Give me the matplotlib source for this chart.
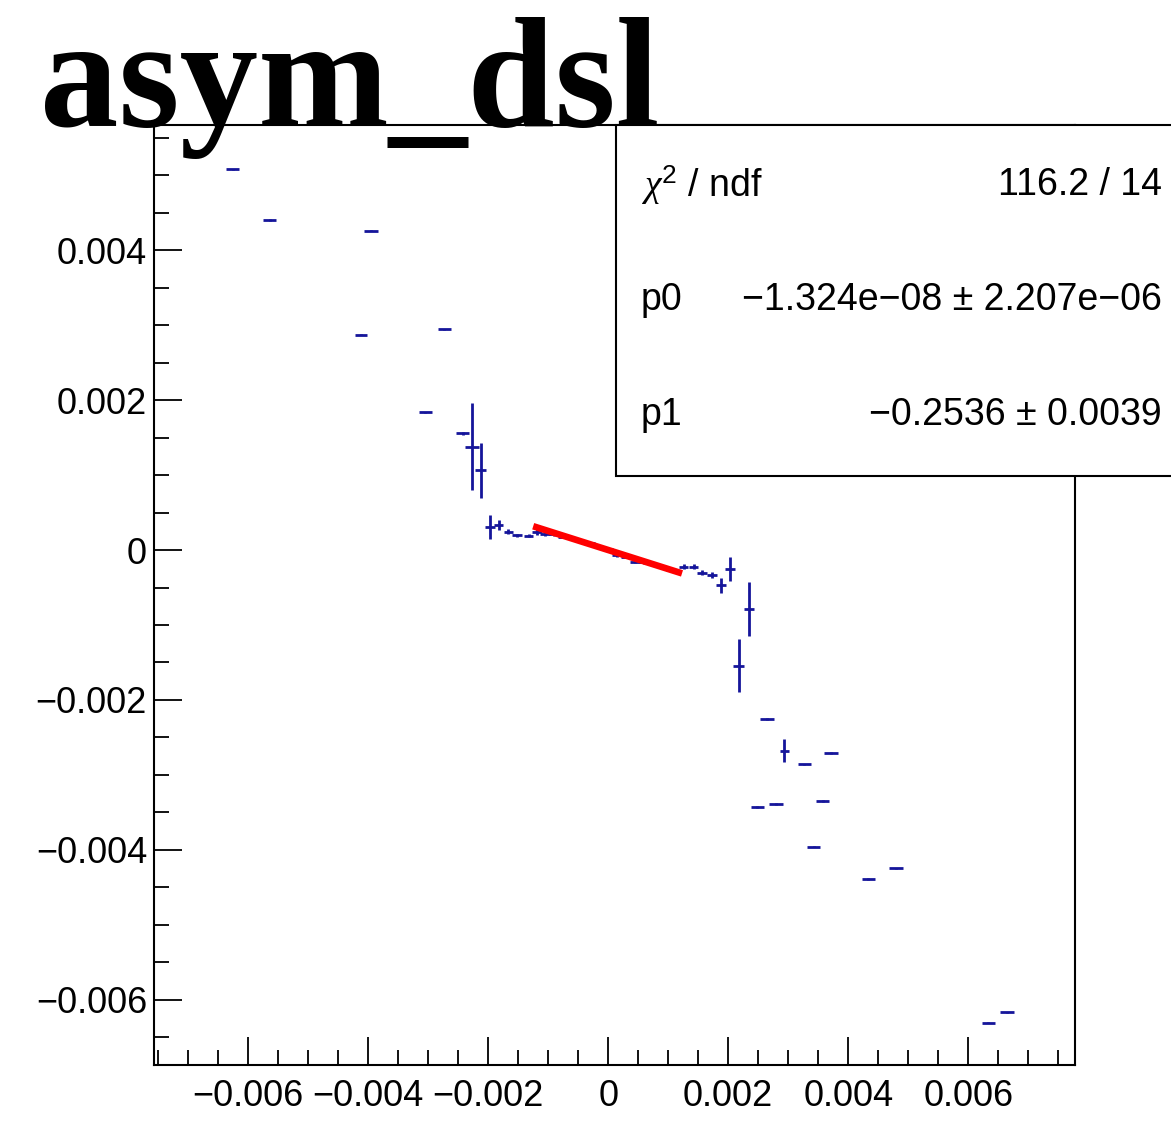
import numpy as np
import matplotlib
matplotlib.use("Agg")
import matplotlib.pyplot as plt
from matplotlib.patches import Rectangle
from matplotlib.ticker import MultipleLocator, FixedLocator, FuncFormatter

plt.rcParams["mathtext.fontset"] = "custom"
plt.rcParams["mathtext.rm"] = "Liberation Sans"
plt.rcParams["mathtext.it"] = "Liberation Serif:italic"

# ---- data ----
x_vals = [-0.00626, -0.005645, -0.003955, -0.004112, -0.002733, -0.00305, -0.002422,
          -0.002267, -0.002125, -0.001967, -0.001828, -0.001662, -0.001522, -0.001328,
          -0.001188,
          -0.00105, -0.00090, -0.00075, -0.00060, -0.00045, -0.00030, -0.00015, 0.0,
          0.00015, 0.00030, 0.00045, 0.00060, 0.00075, 0.00090, 0.00105,
          0.001255, 0.001422, 0.001562, 0.001728, 0.001878, 0.002033, 0.002172,
          0.00235, 0.002645, 0.002488, 0.0028, 0.002938, 0.003267, 0.003712,
          0.003578, 0.003422, 0.004338, 0.0048, 0.006338, 0.006645]
y_vals = [0.005076, 0.0044, 0.004257, 0.002871, 0.002943, 0.001836, 0.001556,
          0.001378, 0.001062, 0.000311, 0.000333, 0.000244, 0.0002, 0.000187,
          0.000244,
          0.000213, 0.00021, 0.000178, 0.00016, 0.000125, 0.000089, 0.00004, 0.00001,
          -0.000067, -0.000089, -0.000156, -0.00016, -0.00019, -0.00023, -0.00026,
          -0.000222, -0.000222, -0.000303, -0.000333, -0.000467, -0.000258, -0.001542,
          -0.00079, -0.002253, -0.003427, -0.00339, -0.002676, -0.002858, -0.00271,
          -0.00335, -0.003956, -0.004387, -0.004244, -0.006302, -0.006164]
x_errs = [0.00011, 0.00011, 0.00011, 0.00010, 0.00011, 0.00011, 0.00011,
          0.00012, 0.00009, 0.00008, 0.00008, 0.00008, 0.00008, 0.00008,
          0.00008,
          0.00008, 0.00008, 0.00008, 0.00008, 0.00008, 0.00008, 0.00008, 0.00008,
          0.00008, 0.00008, 0.00008, 0.00008, 0.00008, 0.00008, 0.00008,
          0.00008, 0.00008, 0.00008, 0.00008, 0.00008, 0.00008, 0.00009,
          0.00008, 0.00011, 0.00011, 0.00012, 0.00008, 0.00011, 0.00011,
          0.00011, 0.00011, 0.00011, 0.00012, 0.00011, 0.00011]
y_errs = [0.00001, 0.00001, 0.00001, 0.00001, 0.00001, 0.00001, 0.00002,
          0.00058, 0.00037, 0.00016, 0.00007, 0.00003, 0.00002, 0.00002,
          0.00004,
          0.00003, 0.00002, 0.00002, 0.00002, 0.00002, 0.00002, 0.00002, 0.00002,
          0.00002, 0.00002, 0.00002, 0.00002, 0.00002, 0.00002, 0.00003,
          0.00003, 0.00003, 0.00003, 0.00004, 0.00010, 0.00016, 0.00035,
          0.00036, 0.00001, 0.00001, 0.00001, 0.00015, 0.00001, 0.00001,
          0.00001, 0.00001, 0.00001, 0.00001, 0.00001, 0.00001]

fit_p0 = -1.324e-08
fit_p1 = -0.2536
fit_range = [-0.00125, 0.00123]

x_ticks = [-0.006, -0.004, -0.002, 0.0, 0.002, 0.004, 0.006]
y_ticks = [-0.006, -0.004, -0.002, 0.0, 0.002, 0.004]

stats_labels = [r"$\chi^{2}$ / ndf", "p0", "p1"]
stats_values = ["116.2 / 14", "\u22121.324e\u221208 \u00b1 2.207e\u221206",
                "\u22120.2536 \u00b1 0.0039"]
title = "asym_dsl"

# ---- figure ----
W, H = 1171, 1121
fig = plt.figure(figsize=(W / 100, H / 100), dpi=100)
ax_l, ax_r, ax_t, ax_b = 154, 1075, 125, 1065
ax = fig.add_axes([ax_l / W, 1 - ax_b / H, (ax_r - ax_l) / W, (ax_b - ax_t) / H])

blue = "#15159a"
ax.errorbar(x_vals, y_vals, xerr=x_errs, yerr=y_errs, fmt="none",
            ecolor=blue, elinewidth=2.0, capsize=0, zorder=3)

xf = np.linspace(fit_range[0], fit_range[1], 60)
ax.plot(xf, fit_p0 + fit_p1 * xf, color="#ff0000", lw=4.8, zorder=4,
        solid_capstyle="butt")

ax.set_xlim(-0.00757, 0.00778)
ax.set_ylim(-0.006867, 0.005667)

def fmt(v, pos=None):
    if abs(v) < 1e-12:
        return "0"
    s = f"{v:.3f}"
    return s.replace("-", "\u2212")

ax.xaxis.set_major_locator(FixedLocator(x_ticks))
ax.yaxis.set_major_locator(FixedLocator(y_ticks))
ax.xaxis.set_minor_locator(MultipleLocator(0.0005))
ax.yaxis.set_minor_locator(MultipleLocator(0.0005))
ax.xaxis.set_major_formatter(FuncFormatter(fmt))
ax.yaxis.set_major_formatter(FuncFormatter(fmt))

lab_font = "Liberation Sans"
ax.tick_params(which="major", direction="in", length=20, width=1.3,
               labelsize=26, top=False, right=False)
ax.tick_params(which="minor", direction="in", length=11, width=1.3,
               top=False, right=False)
ax.tick_params(axis="y", which="major", pad=5)
ax.tick_params(axis="x", which="major", pad=10)
for lab in ax.get_xticklabels() + ax.get_yticklabels():
    lab.set_fontfamily(lab_font)
for s in ax.spines.values():
    s.set_linewidth(1.5)

# stats box
bx_l, bx_t, bx_b = 616, 125, 476
rect = Rectangle((bx_l / W, 1 - bx_b / H), (W + 20 - bx_l) / W, (bx_b - bx_t) / H,
                 transform=fig.transFigure, facecolor="white", edgecolor="black",
                 linewidth=1.5, zorder=10, clip_on=False)
fig.add_artist(rect)
row_y = [185, 300, 415]
for lab, val, yy in zip(stats_labels, stats_values, row_y):
    fig.text(641 / W, 1 - yy / H, lab, fontsize=27, fontfamily=lab_font,
             va="center", ha="left", zorder=11)
    fig.text(1162 / W, 1 - yy / H, val, fontsize=27, fontfamily=lab_font,
             va="center", ha="right", zorder=11)

# title
fig.text(40 / W, 1 - 126 / H, title, fontsize=113, fontfamily="Liberation Serif",
         fontweight="bold", va="baseline", ha="left", zorder=12)

fig.savefig("out.png", dpi=100, facecolor="white")
